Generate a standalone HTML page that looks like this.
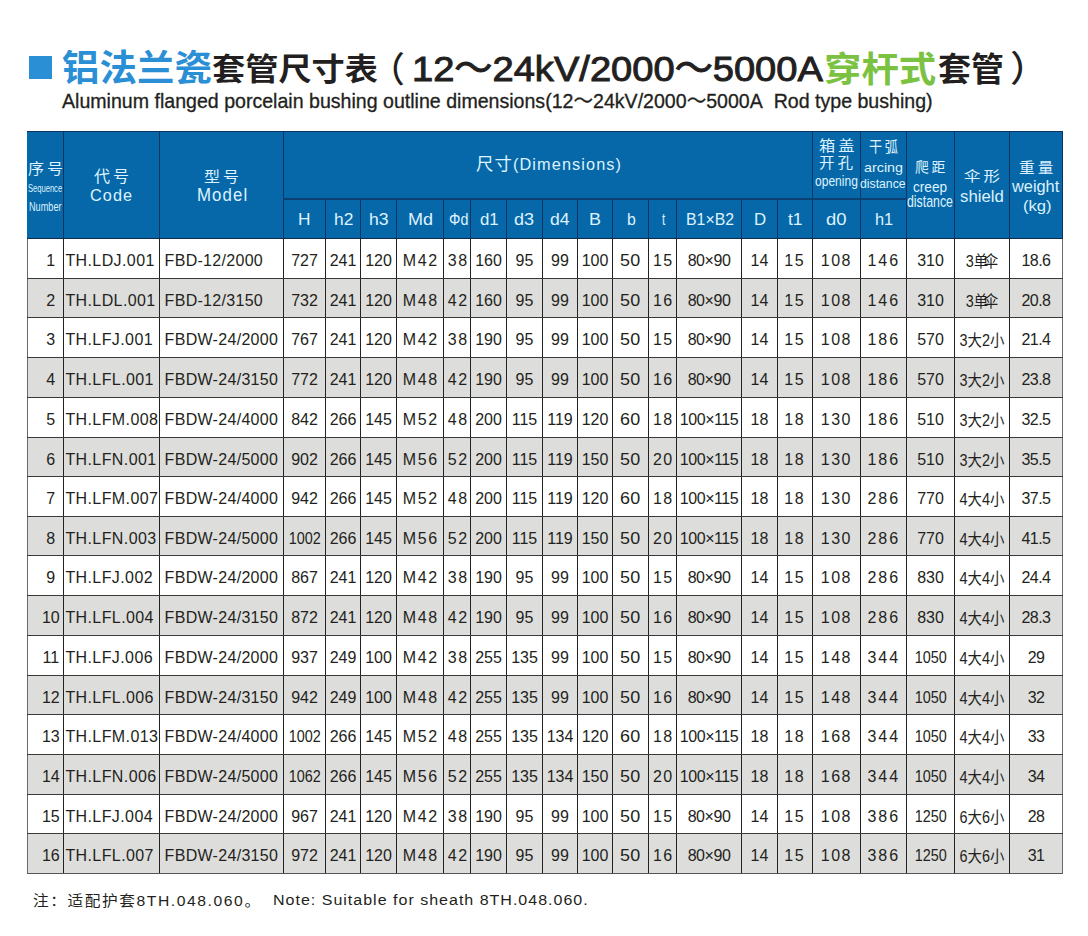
<!DOCTYPE html>
<html lang="zh"><head><meta charset="utf-8"><title>铝法兰瓷套管尺寸表</title><style>
*{margin:0;padding:0;box-sizing:border-box}
html,body{width:1088px;height:936px;background:#fff;overflow:hidden}
body{position:relative;font-family:"Liberation Sans","Noto Sans CJK SC",sans-serif;color:#231f20}
.a{position:absolute}
.f{position:absolute;white-space:nowrap;line-height:1;transform-origin:0 0}
.sq{left:29px;top:56px;width:23px;height:23px;background:#2a8fd5}
.hd{background:#0668a8}
.gr{background:#dddddb}
.vl{width:1px;background:#222}
.hl{height:1px;background:#3a3a3a}
.d{position:absolute;height:18px;line-height:18px;font-size:16px;text-align:center;white-space:nowrap}
.dl{text-align:left;letter-spacing:.4px}
.sh{display:inline-block;transform:scaleX(.9)}
</style></head><body>
<div class="a sq"></div>
<div class="a hd" style="left:27px;top:131px;width:1036px;height:107px"></div>
<div class="a gr" style="left:27px;top:278px;width:1036px;height:39px"></div>
<div class="a gr" style="left:27px;top:357px;width:1036px;height:40px"></div>
<div class="a gr" style="left:27px;top:437px;width:1036px;height:39px"></div>
<div class="a gr" style="left:27px;top:516px;width:1036px;height:39px"></div>
<div class="a gr" style="left:27px;top:595px;width:1036px;height:40px"></div>
<div class="a gr" style="left:27px;top:675px;width:1036px;height:39px"></div>
<div class="a gr" style="left:27px;top:754px;width:1036px;height:40px"></div>
<div class="a gr" style="left:27px;top:833px;width:1036px;height:40px"></div>
<div class="a vl" style="left:27px;top:238px;height:636px;background:#6a6a6a"></div>
<div class="a vl" style="left:63px;top:131px;height:107px;background:#0b3460"></div>
<div class="a vl" style="left:63px;top:238px;height:636px;background:#222"></div>
<div class="a vl" style="left:159px;top:131px;height:107px;background:#0b3460"></div>
<div class="a vl" style="left:159px;top:238px;height:636px;background:#222"></div>
<div class="a vl" style="left:283px;top:131px;height:107px;background:#0b3460"></div>
<div class="a vl" style="left:283px;top:238px;height:636px;background:#222"></div>
<div class="a vl" style="left:325px;top:198px;height:40px;background:#0b3460"></div>
<div class="a vl" style="left:325px;top:238px;height:636px;background:#222"></div>
<div class="a vl" style="left:360px;top:198px;height:40px;background:#0b3460"></div>
<div class="a vl" style="left:360px;top:238px;height:636px;background:#222"></div>
<div class="a vl" style="left:396px;top:198px;height:40px;background:#0b3460"></div>
<div class="a vl" style="left:396px;top:238px;height:636px;background:#222"></div>
<div class="a vl" style="left:443px;top:198px;height:40px;background:#0b3460"></div>
<div class="a vl" style="left:443px;top:238px;height:636px;background:#222"></div>
<div class="a vl" style="left:470px;top:198px;height:40px;background:#0b3460"></div>
<div class="a vl" style="left:470px;top:238px;height:636px;background:#222"></div>
<div class="a vl" style="left:506px;top:198px;height:40px;background:#0b3460"></div>
<div class="a vl" style="left:506px;top:238px;height:636px;background:#222"></div>
<div class="a vl" style="left:542px;top:198px;height:40px;background:#0b3460"></div>
<div class="a vl" style="left:542px;top:238px;height:636px;background:#222"></div>
<div class="a vl" style="left:577px;top:198px;height:40px;background:#0b3460"></div>
<div class="a vl" style="left:577px;top:238px;height:636px;background:#222"></div>
<div class="a vl" style="left:612px;top:198px;height:40px;background:#0b3460"></div>
<div class="a vl" style="left:612px;top:238px;height:636px;background:#222"></div>
<div class="a vl" style="left:648px;top:198px;height:40px;background:#0b3460"></div>
<div class="a vl" style="left:648px;top:238px;height:636px;background:#222"></div>
<div class="a vl" style="left:676px;top:198px;height:40px;background:#0b3460"></div>
<div class="a vl" style="left:676px;top:238px;height:636px;background:#222"></div>
<div class="a vl" style="left:741px;top:198px;height:40px;background:#0b3460"></div>
<div class="a vl" style="left:741px;top:238px;height:636px;background:#222"></div>
<div class="a vl" style="left:777px;top:198px;height:40px;background:#0b3460"></div>
<div class="a vl" style="left:777px;top:238px;height:636px;background:#222"></div>
<div class="a vl" style="left:812px;top:131px;height:107px;background:#0b3460"></div>
<div class="a vl" style="left:812px;top:238px;height:636px;background:#222"></div>
<div class="a vl" style="left:860px;top:131px;height:107px;background:#0b3460"></div>
<div class="a vl" style="left:860px;top:238px;height:636px;background:#222"></div>
<div class="a vl" style="left:906px;top:131px;height:107px;background:#0b3460"></div>
<div class="a vl" style="left:906px;top:238px;height:636px;background:#222"></div>
<div class="a vl" style="left:954px;top:131px;height:107px;background:#0b3460"></div>
<div class="a vl" style="left:954px;top:238px;height:636px;background:#222"></div>
<div class="a vl" style="left:1009px;top:131px;height:107px;background:#0b3460"></div>
<div class="a vl" style="left:1009px;top:238px;height:636px;background:#222"></div>
<div class="a vl" style="left:1062px;top:131px;height:107px;background:#0b3460"></div>
<div class="a vl" style="left:1062px;top:238px;height:636px;background:#6a6a6a"></div>
<div class="a hl" style="left:27px;top:131px;width:1036px;background:#0b3460"></div>
<div class="a hl" style="left:27px;top:238px;width:1036px;background:#102c48"></div>
<div class="a hl" style="left:27px;top:278px;width:1036px"></div>
<div class="a hl" style="left:27px;top:317px;width:1036px"></div>
<div class="a hl" style="left:27px;top:357px;width:1036px"></div>
<div class="a hl" style="left:27px;top:397px;width:1036px"></div>
<div class="a hl" style="left:27px;top:437px;width:1036px"></div>
<div class="a hl" style="left:27px;top:476px;width:1036px"></div>
<div class="a hl" style="left:27px;top:516px;width:1036px"></div>
<div class="a hl" style="left:27px;top:555px;width:1036px"></div>
<div class="a hl" style="left:27px;top:595px;width:1036px"></div>
<div class="a hl" style="left:27px;top:635px;width:1036px"></div>
<div class="a hl" style="left:27px;top:675px;width:1036px"></div>
<div class="a hl" style="left:27px;top:714px;width:1036px"></div>
<div class="a hl" style="left:27px;top:754px;width:1036px"></div>
<div class="a hl" style="left:27px;top:794px;width:1036px"></div>
<div class="a hl" style="left:27px;top:833px;width:1036px"></div>
<div class="a hl" style="left:27px;top:873px;width:1036px;background:#555"></div>
<div class="a hl" style="left:283px;top:198px;width:624px;height:2px;background:#0c4072"></div>
<span class="f" style="font-family:'Noto Sans CJK SC',sans-serif;font-size:37px;font-weight:700;line-height:1;left:61.69px;top:48.03px;transform:scale(1.0130,0.9694);color:#2a8fd5;">铝法兰瓷</span>
<span class="f" style="font-family:'Noto Sans CJK SC',sans-serif;font-size:34px;font-weight:700;line-height:1;left:212.12px;top:51.79px;transform:scale(0.9762,0.9088);color:#231f20;">套管尺寸表</span>
<span class="f" style="font-family:'Noto Sans CJK SC',sans-serif;font-size:37px;font-weight:500;line-height:1;left:369.60px;top:49.51px;transform:scale(0.9400,0.9457);color:#231f20;">（</span>
<span class="f" style="font-family:'Liberation Sans','Noto Sans CJK SC',sans-serif;font-size:37px;font-weight:400;-webkit-text-stroke:1px #231f20;line-height:1;left:411.84px;top:50.88px;transform:scale(1.0296,0.9724);color:#231f20;">12～24kV/2000～5000A</span>
<span class="f" style="font-family:'Noto Sans CJK SC',sans-serif;font-size:37px;font-weight:700;line-height:1;left:824.48px;top:48.73px;transform:scale(1.0111,0.9667);color:#7cc242;">穿杆式</span>
<span class="f" style="font-family:'Noto Sans CJK SC',sans-serif;font-size:34px;font-weight:700;line-height:1;left:937.73px;top:51.24px;transform:scale(0.9682,0.9576);color:#231f20;">套管</span>
<span class="f" style="font-family:'Noto Sans CJK SC',sans-serif;font-size:37px;font-weight:500;line-height:1;left:1010.06px;top:49.06px;transform:scale(1.0200,0.9714);color:#231f20;">）</span>
<span class="f" style="font-family:'Liberation Sans','Noto Sans CJK SC',sans-serif;font-size:19px;-webkit-text-stroke:0.3px #231f20;line-height:1;left:62.40px;top:91.04px;transform:scale(1.0303,1.0538);color:#231f20;">Aluminum flanged porcelain bushing outline dimensions(12～24kV/2000～5000A&nbsp; Rod type bushing)</span>
<span class="f" style="font-family:'Liberation Sans','Noto Sans CJK SC',sans-serif;font-size:16px;letter-spacing:1.6px;line-height:1;left:32.52px;top:894.19px;transform:scale(0.9800,0.8938);color:#231f20;">注：适配护套8TH.048.060。</span>
<span class="f" style="font-family:'Liberation Sans','Noto Sans CJK SC',sans-serif;font-size:16px;letter-spacing:1px;line-height:1;left:272.90px;top:893.46px;transform:scale(1.0006,0.9417);color:#231f20;">Note: Suitable for sheath 8TH.048.060.</span>
<span class="f" style="font-family:'Noto Sans CJK SC',sans-serif;font-size:16px;letter-spacing:3px;line-height:1;left:28.39px;top:159.57px;transform:scale(1.0061,0.9313);color:#def2ff;">序号</span>
<span class="f" style="font-family:'Liberation Sans','Noto Sans CJK SC',sans-serif;font-size:11.5px;line-height:1;left:28.34px;top:182.70px;transform:scale(0.6588,1.0000);color:#def2ff;">Sequence</span>
<span class="f" style="font-family:'Liberation Sans','Noto Sans CJK SC',sans-serif;font-size:11.5px;line-height:1;left:28.90px;top:201.33px;transform:scale(0.7950,1.0750);color:#def2ff;">Number</span>
<span class="f" style="font-family:'Noto Sans CJK SC',sans-serif;font-size:16px;letter-spacing:3px;line-height:1;left:94.10px;top:166.74px;transform:scale(1.0030,0.9800);color:#def2ff;">代号</span>
<span class="f" style="font-family:'Liberation Sans','Noto Sans CJK SC',sans-serif;font-size:15.5px;letter-spacing:1px;line-height:1;left:90.35px;top:187.12px;transform:scale(1.0487,1.0600);color:#def2ff;">Code</span>
<span class="f" style="font-family:'Noto Sans CJK SC',sans-serif;font-size:16px;letter-spacing:3px;line-height:1;left:203.81px;top:168.61px;transform:scale(0.9939,0.8938);color:#def2ff;">型号</span>
<span class="f" style="font-family:'Liberation Sans','Noto Sans CJK SC',sans-serif;font-size:15.5px;letter-spacing:1px;line-height:1;left:196.71px;top:185.62px;transform:scale(1.0864,1.1600);color:#def2ff;">Model</span>
<span class="f" style="font-family:'Liberation Sans','Noto Sans CJK SC',sans-serif;font-size:15px;letter-spacing:1px;line-height:1;left:475.91px;top:155.99px;transform:scale(1.0870,1.0700);color:#def2ff;"><span style="font-size:16px">尺寸</span>(Dimensions)</span>
<span class="f" style="font-family:'Noto Sans CJK SC',sans-serif;font-size:16px;letter-spacing:3px;line-height:1;left:818.68px;top:137.81px;transform:scale(1.0152,0.8938);color:#def2ff;">箱盖</span>
<span class="f" style="font-family:'Noto Sans CJK SC',sans-serif;font-size:16px;letter-spacing:3px;line-height:1;left:819.13px;top:154.31px;transform:scale(0.9735,0.9467);color:#def2ff;">开孔</span>
<span class="f" style="font-family:'Liberation Sans','Noto Sans CJK SC',sans-serif;font-size:14px;line-height:1;left:815.14px;top:173.70px;transform:scale(0.8604,1.0250);color:#def2ff;">opening</span>
<span class="f" style="font-family:'Noto Sans CJK SC',sans-serif;font-size:16px;letter-spacing:3px;line-height:1;left:868.88px;top:137.78px;transform:scale(0.8242,0.9188);color:#def2ff;">干弧</span>
<span class="f" style="font-family:'Liberation Sans','Noto Sans CJK SC',sans-serif;font-size:14px;line-height:1;left:864.08px;top:160.10px;transform:scale(1.0222,0.9750);color:#def2ff;">arcing</span>
<span class="f" style="font-family:'Liberation Sans','Noto Sans CJK SC',sans-serif;font-size:14px;line-height:1;left:860.13px;top:175.88px;transform:scale(0.8745,0.9600);color:#def2ff;">distance</span>
<span class="f" style="font-family:'Noto Sans CJK SC',sans-serif;font-size:16px;letter-spacing:3px;line-height:1;left:915.14px;top:159.43px;transform:scale(0.8647,0.8750);color:#def2ff;">爬距</span>
<span class="f" style="font-family:'Liberation Sans','Noto Sans CJK SC',sans-serif;font-size:14px;line-height:1;left:912.83px;top:178.70px;transform:scale(0.9735,1.1000);color:#def2ff;">creep</span>
<span class="f" style="font-family:'Liberation Sans','Noto Sans CJK SC',sans-serif;font-size:14px;line-height:1;left:907.02px;top:193.24px;transform:scale(0.8804,1.1800);color:#def2ff;">distance</span>
<span class="f" style="font-family:'Noto Sans CJK SC',sans-serif;font-size:16px;letter-spacing:3px;line-height:1;left:964.28px;top:168.22px;transform:scale(1.0242,0.8750);color:#def2ff;">伞形</span>
<span class="f" style="font-family:'Liberation Sans','Noto Sans CJK SC',sans-serif;font-size:16px;line-height:1;left:959.85px;top:188.69px;transform:scale(1.0475,1.0083);color:#def2ff;">shield</span>
<span class="f" style="font-family:'Noto Sans CJK SC',sans-serif;font-size:16px;letter-spacing:3px;line-height:1;left:1018.72px;top:159.37px;transform:scale(0.9818,0.9333);color:#def2ff;">重量</span>
<span class="f" style="font-family:'Liberation Sans','Noto Sans CJK SC',sans-serif;font-size:16px;line-height:1;left:1012.40px;top:179.12px;transform:scale(1.0217,0.9833);color:#def2ff;">weight</span>
<span class="f" style="font-family:'Liberation Sans','Noto Sans CJK SC',sans-serif;font-size:16px;line-height:1;left:1023.06px;top:198.98px;transform:scale(1.0385,0.9167);color:#def2ff;">(kg)</span>
<span class="f" style="font-family:'Liberation Sans','Noto Sans CJK SC',sans-serif;font-size:16.5px;line-height:1;left:298.45px;top:211.33px;transform:scale(1.0500,0.9833);color:#def2ff;">H</span>
<span class="f" style="font-family:'Liberation Sans','Noto Sans CJK SC',sans-serif;font-size:16.5px;line-height:1;left:333.75px;top:211.33px;transform:scale(1.0529,0.9833);color:#def2ff;">h2</span>
<span class="f" style="font-family:'Liberation Sans','Noto Sans CJK SC',sans-serif;font-size:16.5px;line-height:1;left:368.53px;top:211.33px;transform:scale(1.0706,0.9833);color:#def2ff;">h3</span>
<span class="f" style="font-family:'Liberation Sans','Noto Sans CJK SC',sans-serif;font-size:16.5px;line-height:1;left:408.00px;top:211.33px;transform:scale(1.0952,0.9833);color:#def2ff;">Md</span>
<span class="f" style="font-family:'Liberation Sans','Noto Sans CJK SC',sans-serif;font-size:16.5px;line-height:1;left:448.93px;top:211.33px;transform:scale(0.8667,0.9833);color:#def2ff;">Φd</span>
<span class="f" style="font-family:'Liberation Sans','Noto Sans CJK SC',sans-serif;font-size:16.5px;line-height:1;left:479.78px;top:211.33px;transform:scale(1.0176,0.9833);color:#def2ff;">d1</span>
<span class="f" style="font-family:'Liberation Sans','Noto Sans CJK SC',sans-serif;font-size:16.5px;line-height:1;left:514.21px;top:211.33px;transform:scale(1.0941,0.9833);color:#def2ff;">d3</span>
<span class="f" style="font-family:'Liberation Sans','Noto Sans CJK SC',sans-serif;font-size:16.5px;line-height:1;left:549.84px;top:211.33px;transform:scale(1.0647,0.9833);color:#def2ff;">d4</span>
<span class="f" style="font-family:'Liberation Sans','Noto Sans CJK SC',sans-serif;font-size:16.5px;line-height:1;left:589.31px;top:211.33px;transform:scale(1.0889,0.9833);color:#def2ff;">B</span>
<span class="f" style="font-family:'Liberation Sans','Noto Sans CJK SC',sans-serif;font-size:16.5px;line-height:1;left:627.24px;top:211.33px;transform:scale(0.9625,0.9833);color:#def2ff;">b</span>
<span class="f" style="font-family:'Liberation Sans','Noto Sans CJK SC',sans-serif;font-size:16.5px;line-height:1;left:661.60px;top:211.33px;transform:scale(0.7000,0.9833);color:#def2ff;">t</span>
<span class="f" style="font-family:'Liberation Sans','Noto Sans CJK SC',sans-serif;font-size:16.5px;line-height:1;left:685.64px;top:211.33px;transform:scale(0.9604,0.9833);color:#def2ff;">B1×B2</span>
<span class="f" style="font-family:'Liberation Sans','Noto Sans CJK SC',sans-serif;font-size:16.5px;line-height:1;left:753.58px;top:211.33px;transform:scale(1.0200,0.9833);color:#def2ff;">D</span>
<span class="f" style="font-family:'Liberation Sans','Noto Sans CJK SC',sans-serif;font-size:16.5px;line-height:1;left:788.00px;top:211.33px;transform:scale(1.0615,0.9833);color:#def2ff;">t1</span>
<span class="f" style="font-family:'Liberation Sans','Noto Sans CJK SC',sans-serif;font-size:16.5px;line-height:1;left:826.08px;top:211.33px;transform:scale(1.1176,0.9833);color:#def2ff;">d0</span>
<span class="f" style="font-family:'Liberation Sans','Noto Sans CJK SC',sans-serif;font-size:16.5px;line-height:1;left:874.81px;top:211.33px;transform:scale(0.9941,0.9833);color:#def2ff;">h1</span>
<div class="d" style="left:38px;width:25.6px;top:252.46px;">1</div>
<div class="d dl" style="left:65.4px;width:94px;top:252.46px;">TH.LDJ.001</div>
<div class="d dl" style="left:164.6px;width:118px;top:252.46px;letter-spacing:.3px;">FBD-12/2000</div>
<div class="d" style="left:284px;width:41px;top:252.46px;">727</div>
<div class="d" style="left:326px;width:34px;top:252.46px;">241</div>
<div class="d" style="left:361px;width:35px;top:252.46px;">120</div>
<div class="d" style="left:397px;width:46px;top:252.46px;letter-spacing:1.60px;padding-left:1.60px;">M42</div>
<div class="d" style="left:444.5px;width:26px;top:252.46px;letter-spacing:1.60px;padding-left:1.60px;">38</div>
<div class="d" style="left:471px;width:35px;top:252.46px;">160</div>
<div class="d" style="left:507px;width:35px;top:252.46px;">95</div>
<div class="d" style="left:543px;width:34px;top:252.46px;">99</div>
<div class="d" style="left:578px;width:34px;top:252.46px;">100</div>
<div class="d" style="left:613px;width:35px;top:252.46px;letter-spacing:0.30px;padding-left:0.30px;"><span style="display:inline-block;transform:scaleX(1.12)">50</span></div>
<div class="d" style="left:649px;width:27px;top:252.46px;letter-spacing:1.40px;padding-left:1.40px;">15</div>
<div class="d" style="left:677px;width:64px;top:252.46px;letter-spacing:-0.45px;padding-left:-0.45px;">80×90</div>
<div class="d" style="left:742px;width:35px;top:252.46px;">14</div>
<div class="d" style="left:777px;width:34px;top:252.46px;letter-spacing:1.50px;padding-left:1.50px;">15</div>
<div class="d" style="left:812.1px;width:47px;top:252.46px;letter-spacing:1.50px;padding-left:1.50px;">108</div>
<div class="d" style="left:860.3px;width:45px;top:252.46px;letter-spacing:1.90px;padding-left:1.90px;">146</div>
<div class="d" style="left:907px;width:47px;top:252.46px;">310</div>
<div class="d" style="left:955px;width:54px;top:253.26px;"><span class="sh">3<span style="letter-spacing:-5px">单</span>伞</span></div>
<div class="d" style="left:1010px;width:52px;top:252.46px;letter-spacing:-0.55px;padding-left:-0.55px;">18.6</div>
<div class="d" style="left:38px;width:25.6px;top:292.46px;">2</div>
<div class="d dl" style="left:65.4px;width:94px;top:292.46px;">TH.LDL.001</div>
<div class="d dl" style="left:164.6px;width:118px;top:292.46px;letter-spacing:.3px;">FBD-12/3150</div>
<div class="d" style="left:284px;width:41px;top:292.46px;">732</div>
<div class="d" style="left:326px;width:34px;top:292.46px;">241</div>
<div class="d" style="left:361px;width:35px;top:292.46px;">120</div>
<div class="d" style="left:397px;width:46px;top:292.46px;letter-spacing:1.60px;padding-left:1.60px;">M48</div>
<div class="d" style="left:444.5px;width:26px;top:292.46px;letter-spacing:1.60px;padding-left:1.60px;">42</div>
<div class="d" style="left:471px;width:35px;top:292.46px;">160</div>
<div class="d" style="left:507px;width:35px;top:292.46px;">95</div>
<div class="d" style="left:543px;width:34px;top:292.46px;">99</div>
<div class="d" style="left:578px;width:34px;top:292.46px;">100</div>
<div class="d" style="left:613px;width:35px;top:292.46px;letter-spacing:0.30px;padding-left:0.30px;"><span style="display:inline-block;transform:scaleX(1.12)">50</span></div>
<div class="d" style="left:649px;width:27px;top:292.46px;letter-spacing:1.40px;padding-left:1.40px;">16</div>
<div class="d" style="left:677px;width:64px;top:292.46px;letter-spacing:-0.45px;padding-left:-0.45px;">80×90</div>
<div class="d" style="left:742px;width:35px;top:292.46px;">14</div>
<div class="d" style="left:777px;width:34px;top:292.46px;letter-spacing:1.50px;padding-left:1.50px;">15</div>
<div class="d" style="left:812.1px;width:47px;top:292.46px;letter-spacing:1.50px;padding-left:1.50px;">108</div>
<div class="d" style="left:860.3px;width:45px;top:292.46px;letter-spacing:1.90px;padding-left:1.90px;">146</div>
<div class="d" style="left:907px;width:47px;top:292.46px;">310</div>
<div class="d" style="left:955px;width:54px;top:293.26px;"><span class="sh">3<span style="letter-spacing:-5px">单</span>伞</span></div>
<div class="d" style="left:1010px;width:52px;top:292.46px;letter-spacing:-0.55px;padding-left:-0.55px;">20.8</div>
<div class="d" style="left:38px;width:25.6px;top:331.46px;">3</div>
<div class="d dl" style="left:65.4px;width:94px;top:331.46px;">TH.LFJ.001</div>
<div class="d dl" style="left:164.6px;width:118px;top:331.46px;letter-spacing:.3px;">FBDW-24/2000</div>
<div class="d" style="left:284px;width:41px;top:331.46px;">767</div>
<div class="d" style="left:326px;width:34px;top:331.46px;">241</div>
<div class="d" style="left:361px;width:35px;top:331.46px;">120</div>
<div class="d" style="left:397px;width:46px;top:331.46px;letter-spacing:1.60px;padding-left:1.60px;">M42</div>
<div class="d" style="left:444.5px;width:26px;top:331.46px;letter-spacing:1.60px;padding-left:1.60px;">38</div>
<div class="d" style="left:471px;width:35px;top:331.46px;">190</div>
<div class="d" style="left:507px;width:35px;top:331.46px;">95</div>
<div class="d" style="left:543px;width:34px;top:331.46px;">99</div>
<div class="d" style="left:578px;width:34px;top:331.46px;">100</div>
<div class="d" style="left:613px;width:35px;top:331.46px;letter-spacing:0.30px;padding-left:0.30px;"><span style="display:inline-block;transform:scaleX(1.12)">50</span></div>
<div class="d" style="left:649px;width:27px;top:331.46px;letter-spacing:1.40px;padding-left:1.40px;">15</div>
<div class="d" style="left:677px;width:64px;top:331.46px;letter-spacing:-0.45px;padding-left:-0.45px;">80×90</div>
<div class="d" style="left:742px;width:35px;top:331.46px;">14</div>
<div class="d" style="left:777px;width:34px;top:331.46px;letter-spacing:1.50px;padding-left:1.50px;">15</div>
<div class="d" style="left:812.1px;width:47px;top:331.46px;letter-spacing:1.50px;padding-left:1.50px;">108</div>
<div class="d" style="left:860.3px;width:45px;top:331.46px;letter-spacing:1.90px;padding-left:1.90px;">186</div>
<div class="d" style="left:907px;width:47px;top:331.46px;">570</div>
<div class="d" style="left:955px;width:54px;top:332.26px;"><span class="sh">3大2小</span></div>
<div class="d" style="left:1010px;width:52px;top:331.46px;letter-spacing:-0.55px;padding-left:-0.55px;">21.4</div>
<div class="d" style="left:38px;width:25.6px;top:371.46px;">4</div>
<div class="d dl" style="left:65.4px;width:94px;top:371.46px;">TH.LFL.001</div>
<div class="d dl" style="left:164.6px;width:118px;top:371.46px;letter-spacing:.3px;">FBDW-24/3150</div>
<div class="d" style="left:284px;width:41px;top:371.46px;">772</div>
<div class="d" style="left:326px;width:34px;top:371.46px;">241</div>
<div class="d" style="left:361px;width:35px;top:371.46px;">120</div>
<div class="d" style="left:397px;width:46px;top:371.46px;letter-spacing:1.60px;padding-left:1.60px;">M48</div>
<div class="d" style="left:444.5px;width:26px;top:371.46px;letter-spacing:1.60px;padding-left:1.60px;">42</div>
<div class="d" style="left:471px;width:35px;top:371.46px;">190</div>
<div class="d" style="left:507px;width:35px;top:371.46px;">95</div>
<div class="d" style="left:543px;width:34px;top:371.46px;">99</div>
<div class="d" style="left:578px;width:34px;top:371.46px;">100</div>
<div class="d" style="left:613px;width:35px;top:371.46px;letter-spacing:0.30px;padding-left:0.30px;"><span style="display:inline-block;transform:scaleX(1.12)">50</span></div>
<div class="d" style="left:649px;width:27px;top:371.46px;letter-spacing:1.40px;padding-left:1.40px;">16</div>
<div class="d" style="left:677px;width:64px;top:371.46px;letter-spacing:-0.45px;padding-left:-0.45px;">80×90</div>
<div class="d" style="left:742px;width:35px;top:371.46px;">14</div>
<div class="d" style="left:777px;width:34px;top:371.46px;letter-spacing:1.50px;padding-left:1.50px;">15</div>
<div class="d" style="left:812.1px;width:47px;top:371.46px;letter-spacing:1.50px;padding-left:1.50px;">108</div>
<div class="d" style="left:860.3px;width:45px;top:371.46px;letter-spacing:1.90px;padding-left:1.90px;">186</div>
<div class="d" style="left:907px;width:47px;top:371.46px;">570</div>
<div class="d" style="left:955px;width:54px;top:372.26px;"><span class="sh">3大2小</span></div>
<div class="d" style="left:1010px;width:52px;top:371.46px;letter-spacing:-0.55px;padding-left:-0.55px;">23.8</div>
<div class="d" style="left:38px;width:25.6px;top:411.46px;">5</div>
<div class="d dl" style="left:65.4px;width:94px;top:411.46px;">TH.LFM.008</div>
<div class="d dl" style="left:164.6px;width:118px;top:411.46px;letter-spacing:.3px;">FBDW-24/4000</div>
<div class="d" style="left:284px;width:41px;top:411.46px;">842</div>
<div class="d" style="left:326px;width:34px;top:411.46px;">266</div>
<div class="d" style="left:361px;width:35px;top:411.46px;">145</div>
<div class="d" style="left:397px;width:46px;top:411.46px;letter-spacing:1.60px;padding-left:1.60px;">M52</div>
<div class="d" style="left:444.5px;width:26px;top:411.46px;letter-spacing:1.60px;padding-left:1.60px;">48</div>
<div class="d" style="left:471px;width:35px;top:411.46px;">200</div>
<div class="d" style="left:507px;width:35px;top:411.46px;">115</div>
<div class="d" style="left:543px;width:34px;top:411.46px;">119</div>
<div class="d" style="left:578px;width:34px;top:411.46px;">120</div>
<div class="d" style="left:613px;width:35px;top:411.46px;letter-spacing:0.30px;padding-left:0.30px;"><span style="display:inline-block;transform:scaleX(1.12)">60</span></div>
<div class="d" style="left:649px;width:27px;top:411.46px;letter-spacing:1.40px;padding-left:1.40px;">18</div>
<div class="d" style="left:677px;width:64px;top:411.46px;letter-spacing:-0.45px;padding-left:-0.45px;">100×115</div>
<div class="d" style="left:742px;width:35px;top:411.46px;">18</div>
<div class="d" style="left:777px;width:34px;top:411.46px;letter-spacing:1.50px;padding-left:1.50px;">18</div>
<div class="d" style="left:812.1px;width:47px;top:411.46px;letter-spacing:1.50px;padding-left:1.50px;">130</div>
<div class="d" style="left:860.3px;width:45px;top:411.46px;letter-spacing:1.90px;padding-left:1.90px;">186</div>
<div class="d" style="left:907px;width:47px;top:411.46px;">510</div>
<div class="d" style="left:955px;width:54px;top:412.26px;"><span class="sh">3大2小</span></div>
<div class="d" style="left:1010px;width:52px;top:411.46px;letter-spacing:-0.55px;padding-left:-0.55px;">32.5</div>
<div class="d" style="left:38px;width:25.6px;top:451.46px;">6</div>
<div class="d dl" style="left:65.4px;width:94px;top:451.46px;">TH.LFN.001</div>
<div class="d dl" style="left:164.6px;width:118px;top:451.46px;letter-spacing:.3px;">FBDW-24/5000</div>
<div class="d" style="left:284px;width:41px;top:451.46px;">902</div>
<div class="d" style="left:326px;width:34px;top:451.46px;">266</div>
<div class="d" style="left:361px;width:35px;top:451.46px;">145</div>
<div class="d" style="left:397px;width:46px;top:451.46px;letter-spacing:1.60px;padding-left:1.60px;">M56</div>
<div class="d" style="left:444.5px;width:26px;top:451.46px;letter-spacing:1.60px;padding-left:1.60px;">52</div>
<div class="d" style="left:471px;width:35px;top:451.46px;">200</div>
<div class="d" style="left:507px;width:35px;top:451.46px;">115</div>
<div class="d" style="left:543px;width:34px;top:451.46px;">119</div>
<div class="d" style="left:578px;width:34px;top:451.46px;">150</div>
<div class="d" style="left:613px;width:35px;top:451.46px;letter-spacing:0.30px;padding-left:0.30px;"><span style="display:inline-block;transform:scaleX(1.12)">50</span></div>
<div class="d" style="left:649px;width:27px;top:451.46px;letter-spacing:1.40px;padding-left:1.40px;">20</div>
<div class="d" style="left:677px;width:64px;top:451.46px;letter-spacing:-0.45px;padding-left:-0.45px;">100×115</div>
<div class="d" style="left:742px;width:35px;top:451.46px;">18</div>
<div class="d" style="left:777px;width:34px;top:451.46px;letter-spacing:1.50px;padding-left:1.50px;">18</div>
<div class="d" style="left:812.1px;width:47px;top:451.46px;letter-spacing:1.50px;padding-left:1.50px;">130</div>
<div class="d" style="left:860.3px;width:45px;top:451.46px;letter-spacing:1.90px;padding-left:1.90px;">186</div>
<div class="d" style="left:907px;width:47px;top:451.46px;">510</div>
<div class="d" style="left:955px;width:54px;top:452.26px;"><span class="sh">3大2小</span></div>
<div class="d" style="left:1010px;width:52px;top:451.46px;letter-spacing:-0.55px;padding-left:-0.55px;">35.5</div>
<div class="d" style="left:38px;width:25.6px;top:490.46px;">7</div>
<div class="d dl" style="left:65.4px;width:94px;top:490.46px;">TH.LFM.007</div>
<div class="d dl" style="left:164.6px;width:118px;top:490.46px;letter-spacing:.3px;">FBDW-24/4000</div>
<div class="d" style="left:284px;width:41px;top:490.46px;">942</div>
<div class="d" style="left:326px;width:34px;top:490.46px;">266</div>
<div class="d" style="left:361px;width:35px;top:490.46px;">145</div>
<div class="d" style="left:397px;width:46px;top:490.46px;letter-spacing:1.60px;padding-left:1.60px;">M52</div>
<div class="d" style="left:444.5px;width:26px;top:490.46px;letter-spacing:1.60px;padding-left:1.60px;">48</div>
<div class="d" style="left:471px;width:35px;top:490.46px;">200</div>
<div class="d" style="left:507px;width:35px;top:490.46px;">115</div>
<div class="d" style="left:543px;width:34px;top:490.46px;">119</div>
<div class="d" style="left:578px;width:34px;top:490.46px;">120</div>
<div class="d" style="left:613px;width:35px;top:490.46px;letter-spacing:0.30px;padding-left:0.30px;"><span style="display:inline-block;transform:scaleX(1.12)">60</span></div>
<div class="d" style="left:649px;width:27px;top:490.46px;letter-spacing:1.40px;padding-left:1.40px;">18</div>
<div class="d" style="left:677px;width:64px;top:490.46px;letter-spacing:-0.45px;padding-left:-0.45px;">100×115</div>
<div class="d" style="left:742px;width:35px;top:490.46px;">18</div>
<div class="d" style="left:777px;width:34px;top:490.46px;letter-spacing:1.50px;padding-left:1.50px;">18</div>
<div class="d" style="left:812.1px;width:47px;top:490.46px;letter-spacing:1.50px;padding-left:1.50px;">130</div>
<div class="d" style="left:860.3px;width:45px;top:490.46px;letter-spacing:1.90px;padding-left:1.90px;">286</div>
<div class="d" style="left:907px;width:47px;top:490.46px;">770</div>
<div class="d" style="left:955px;width:54px;top:491.26px;"><span class="sh">4大4小</span></div>
<div class="d" style="left:1010px;width:52px;top:490.46px;letter-spacing:-0.55px;padding-left:-0.55px;">37.5</div>
<div class="d" style="left:38px;width:25.6px;top:530.46px;">8</div>
<div class="d dl" style="left:65.4px;width:94px;top:530.46px;">TH.LFN.003</div>
<div class="d dl" style="left:164.6px;width:118px;top:530.46px;letter-spacing:.3px;">FBDW-24/5000</div>
<div class="d" style="left:284px;width:41px;top:530.46px;"><span style="display:inline-block;transform:scaleX(.9)">1002</span></div>
<div class="d" style="left:326px;width:34px;top:530.46px;">266</div>
<div class="d" style="left:361px;width:35px;top:530.46px;">145</div>
<div class="d" style="left:397px;width:46px;top:530.46px;letter-spacing:1.60px;padding-left:1.60px;">M56</div>
<div class="d" style="left:444.5px;width:26px;top:530.46px;letter-spacing:1.60px;padding-left:1.60px;">52</div>
<div class="d" style="left:471px;width:35px;top:530.46px;">200</div>
<div class="d" style="left:507px;width:35px;top:530.46px;">115</div>
<div class="d" style="left:543px;width:34px;top:530.46px;">119</div>
<div class="d" style="left:578px;width:34px;top:530.46px;">150</div>
<div class="d" style="left:613px;width:35px;top:530.46px;letter-spacing:0.30px;padding-left:0.30px;"><span style="display:inline-block;transform:scaleX(1.12)">50</span></div>
<div class="d" style="left:649px;width:27px;top:530.46px;letter-spacing:1.40px;padding-left:1.40px;">20</div>
<div class="d" style="left:677px;width:64px;top:530.46px;letter-spacing:-0.45px;padding-left:-0.45px;">100×115</div>
<div class="d" style="left:742px;width:35px;top:530.46px;">18</div>
<div class="d" style="left:777px;width:34px;top:530.46px;letter-spacing:1.50px;padding-left:1.50px;">18</div>
<div class="d" style="left:812.1px;width:47px;top:530.46px;letter-spacing:1.50px;padding-left:1.50px;">130</div>
<div class="d" style="left:860.3px;width:45px;top:530.46px;letter-spacing:1.90px;padding-left:1.90px;">286</div>
<div class="d" style="left:907px;width:47px;top:530.46px;">770</div>
<div class="d" style="left:955px;width:54px;top:531.26px;"><span class="sh">4大4小</span></div>
<div class="d" style="left:1010px;width:52px;top:530.46px;letter-spacing:-0.55px;padding-left:-0.55px;">41.5</div>
<div class="d" style="left:38px;width:25.6px;top:569.46px;">9</div>
<div class="d dl" style="left:65.4px;width:94px;top:569.46px;">TH.LFJ.002</div>
<div class="d dl" style="left:164.6px;width:118px;top:569.46px;letter-spacing:.3px;">FBDW-24/2000</div>
<div class="d" style="left:284px;width:41px;top:569.46px;">867</div>
<div class="d" style="left:326px;width:34px;top:569.46px;">241</div>
<div class="d" style="left:361px;width:35px;top:569.46px;">120</div>
<div class="d" style="left:397px;width:46px;top:569.46px;letter-spacing:1.60px;padding-left:1.60px;">M42</div>
<div class="d" style="left:444.5px;width:26px;top:569.46px;letter-spacing:1.60px;padding-left:1.60px;">38</div>
<div class="d" style="left:471px;width:35px;top:569.46px;">190</div>
<div class="d" style="left:507px;width:35px;top:569.46px;">95</div>
<div class="d" style="left:543px;width:34px;top:569.46px;">99</div>
<div class="d" style="left:578px;width:34px;top:569.46px;">100</div>
<div class="d" style="left:613px;width:35px;top:569.46px;letter-spacing:0.30px;padding-left:0.30px;"><span style="display:inline-block;transform:scaleX(1.12)">50</span></div>
<div class="d" style="left:649px;width:27px;top:569.46px;letter-spacing:1.40px;padding-left:1.40px;">15</div>
<div class="d" style="left:677px;width:64px;top:569.46px;letter-spacing:-0.45px;padding-left:-0.45px;">80×90</div>
<div class="d" style="left:742px;width:35px;top:569.46px;">14</div>
<div class="d" style="left:777px;width:34px;top:569.46px;letter-spacing:1.50px;padding-left:1.50px;">15</div>
<div class="d" style="left:812.1px;width:47px;top:569.46px;letter-spacing:1.50px;padding-left:1.50px;">108</div>
<div class="d" style="left:860.3px;width:45px;top:569.46px;letter-spacing:1.90px;padding-left:1.90px;">286</div>
<div class="d" style="left:907px;width:47px;top:569.46px;">830</div>
<div class="d" style="left:955px;width:54px;top:570.26px;"><span class="sh">4大4小</span></div>
<div class="d" style="left:1010px;width:52px;top:569.46px;letter-spacing:-0.55px;padding-left:-0.55px;">24.4</div>
<div class="d" style="left:38px;width:25.6px;top:609.46px;">10</div>
<div class="d dl" style="left:65.4px;width:94px;top:609.46px;">TH.LFL.004</div>
<div class="d dl" style="left:164.6px;width:118px;top:609.46px;letter-spacing:.3px;">FBDW-24/3150</div>
<div class="d" style="left:284px;width:41px;top:609.46px;">872</div>
<div class="d" style="left:326px;width:34px;top:609.46px;">241</div>
<div class="d" style="left:361px;width:35px;top:609.46px;">120</div>
<div class="d" style="left:397px;width:46px;top:609.46px;letter-spacing:1.60px;padding-left:1.60px;">M48</div>
<div class="d" style="left:444.5px;width:26px;top:609.46px;letter-spacing:1.60px;padding-left:1.60px;">42</div>
<div class="d" style="left:471px;width:35px;top:609.46px;">190</div>
<div class="d" style="left:507px;width:35px;top:609.46px;">95</div>
<div class="d" style="left:543px;width:34px;top:609.46px;">99</div>
<div class="d" style="left:578px;width:34px;top:609.46px;">100</div>
<div class="d" style="left:613px;width:35px;top:609.46px;letter-spacing:0.30px;padding-left:0.30px;"><span style="display:inline-block;transform:scaleX(1.12)">50</span></div>
<div class="d" style="left:649px;width:27px;top:609.46px;letter-spacing:1.40px;padding-left:1.40px;">16</div>
<div class="d" style="left:677px;width:64px;top:609.46px;letter-spacing:-0.45px;padding-left:-0.45px;">80×90</div>
<div class="d" style="left:742px;width:35px;top:609.46px;">14</div>
<div class="d" style="left:777px;width:34px;top:609.46px;letter-spacing:1.50px;padding-left:1.50px;">15</div>
<div class="d" style="left:812.1px;width:47px;top:609.46px;letter-spacing:1.50px;padding-left:1.50px;">108</div>
<div class="d" style="left:860.3px;width:45px;top:609.46px;letter-spacing:1.90px;padding-left:1.90px;">286</div>
<div class="d" style="left:907px;width:47px;top:609.46px;">830</div>
<div class="d" style="left:955px;width:54px;top:610.26px;"><span class="sh">4大4小</span></div>
<div class="d" style="left:1010px;width:52px;top:609.46px;letter-spacing:-0.55px;padding-left:-0.55px;">28.3</div>
<div class="d" style="left:38px;width:25.6px;top:649.46px;">11</div>
<div class="d dl" style="left:65.4px;width:94px;top:649.46px;">TH.LFJ.006</div>
<div class="d dl" style="left:164.6px;width:118px;top:649.46px;letter-spacing:.3px;">FBDW-24/2000</div>
<div class="d" style="left:284px;width:41px;top:649.46px;">937</div>
<div class="d" style="left:326px;width:34px;top:649.46px;">249</div>
<div class="d" style="left:361px;width:35px;top:649.46px;">100</div>
<div class="d" style="left:397px;width:46px;top:649.46px;letter-spacing:1.60px;padding-left:1.60px;">M42</div>
<div class="d" style="left:444.5px;width:26px;top:649.46px;letter-spacing:1.60px;padding-left:1.60px;">38</div>
<div class="d" style="left:471px;width:35px;top:649.46px;">255</div>
<div class="d" style="left:507px;width:35px;top:649.46px;">135</div>
<div class="d" style="left:543px;width:34px;top:649.46px;">99</div>
<div class="d" style="left:578px;width:34px;top:649.46px;">100</div>
<div class="d" style="left:613px;width:35px;top:649.46px;letter-spacing:0.30px;padding-left:0.30px;"><span style="display:inline-block;transform:scaleX(1.12)">50</span></div>
<div class="d" style="left:649px;width:27px;top:649.46px;letter-spacing:1.40px;padding-left:1.40px;">15</div>
<div class="d" style="left:677px;width:64px;top:649.46px;letter-spacing:-0.45px;padding-left:-0.45px;">80×90</div>
<div class="d" style="left:742px;width:35px;top:649.46px;">14</div>
<div class="d" style="left:777px;width:34px;top:649.46px;letter-spacing:1.50px;padding-left:1.50px;">15</div>
<div class="d" style="left:812.1px;width:47px;top:649.46px;letter-spacing:1.50px;padding-left:1.50px;">148</div>
<div class="d" style="left:860.3px;width:45px;top:649.46px;letter-spacing:1.90px;padding-left:1.90px;">344</div>
<div class="d" style="left:907px;width:47px;top:649.46px;"><span style="display:inline-block;transform:scaleX(.9)">1050</span></div>
<div class="d" style="left:955px;width:54px;top:650.26px;"><span class="sh">4大4小</span></div>
<div class="d" style="left:1010px;width:52px;top:649.46px;letter-spacing:-0.55px;padding-left:-0.55px;">29</div>
<div class="d" style="left:38px;width:25.6px;top:689.46px;">12</div>
<div class="d dl" style="left:65.4px;width:94px;top:689.46px;">TH.LFL.006</div>
<div class="d dl" style="left:164.6px;width:118px;top:689.46px;letter-spacing:.3px;">FBDW-24/3150</div>
<div class="d" style="left:284px;width:41px;top:689.46px;">942</div>
<div class="d" style="left:326px;width:34px;top:689.46px;">249</div>
<div class="d" style="left:361px;width:35px;top:689.46px;">100</div>
<div class="d" style="left:397px;width:46px;top:689.46px;letter-spacing:1.60px;padding-left:1.60px;">M48</div>
<div class="d" style="left:444.5px;width:26px;top:689.46px;letter-spacing:1.60px;padding-left:1.60px;">42</div>
<div class="d" style="left:471px;width:35px;top:689.46px;">255</div>
<div class="d" style="left:507px;width:35px;top:689.46px;">135</div>
<div class="d" style="left:543px;width:34px;top:689.46px;">99</div>
<div class="d" style="left:578px;width:34px;top:689.46px;">100</div>
<div class="d" style="left:613px;width:35px;top:689.46px;letter-spacing:0.30px;padding-left:0.30px;"><span style="display:inline-block;transform:scaleX(1.12)">50</span></div>
<div class="d" style="left:649px;width:27px;top:689.46px;letter-spacing:1.40px;padding-left:1.40px;">16</div>
<div class="d" style="left:677px;width:64px;top:689.46px;letter-spacing:-0.45px;padding-left:-0.45px;">80×90</div>
<div class="d" style="left:742px;width:35px;top:689.46px;">14</div>
<div class="d" style="left:777px;width:34px;top:689.46px;letter-spacing:1.50px;padding-left:1.50px;">15</div>
<div class="d" style="left:812.1px;width:47px;top:689.46px;letter-spacing:1.50px;padding-left:1.50px;">148</div>
<div class="d" style="left:860.3px;width:45px;top:689.46px;letter-spacing:1.90px;padding-left:1.90px;">344</div>
<div class="d" style="left:907px;width:47px;top:689.46px;"><span style="display:inline-block;transform:scaleX(.9)">1050</span></div>
<div class="d" style="left:955px;width:54px;top:690.26px;"><span class="sh">4大4小</span></div>
<div class="d" style="left:1010px;width:52px;top:689.46px;letter-spacing:-0.55px;padding-left:-0.55px;">32</div>
<div class="d" style="left:38px;width:25.6px;top:728.46px;">13</div>
<div class="d dl" style="left:65.4px;width:94px;top:728.46px;">TH.LFM.013</div>
<div class="d dl" style="left:164.6px;width:118px;top:728.46px;letter-spacing:.3px;">FBDW-24/4000</div>
<div class="d" style="left:284px;width:41px;top:728.46px;"><span style="display:inline-block;transform:scaleX(.9)">1002</span></div>
<div class="d" style="left:326px;width:34px;top:728.46px;">266</div>
<div class="d" style="left:361px;width:35px;top:728.46px;">145</div>
<div class="d" style="left:397px;width:46px;top:728.46px;letter-spacing:1.60px;padding-left:1.60px;">M52</div>
<div class="d" style="left:444.5px;width:26px;top:728.46px;letter-spacing:1.60px;padding-left:1.60px;">48</div>
<div class="d" style="left:471px;width:35px;top:728.46px;">255</div>
<div class="d" style="left:507px;width:35px;top:728.46px;">135</div>
<div class="d" style="left:543px;width:34px;top:728.46px;">134</div>
<div class="d" style="left:578px;width:34px;top:728.46px;">120</div>
<div class="d" style="left:613px;width:35px;top:728.46px;letter-spacing:0.30px;padding-left:0.30px;"><span style="display:inline-block;transform:scaleX(1.12)">60</span></div>
<div class="d" style="left:649px;width:27px;top:728.46px;letter-spacing:1.40px;padding-left:1.40px;">18</div>
<div class="d" style="left:677px;width:64px;top:728.46px;letter-spacing:-0.45px;padding-left:-0.45px;">100×115</div>
<div class="d" style="left:742px;width:35px;top:728.46px;">18</div>
<div class="d" style="left:777px;width:34px;top:728.46px;letter-spacing:1.50px;padding-left:1.50px;">18</div>
<div class="d" style="left:812.1px;width:47px;top:728.46px;letter-spacing:1.50px;padding-left:1.50px;">168</div>
<div class="d" style="left:860.3px;width:45px;top:728.46px;letter-spacing:1.90px;padding-left:1.90px;">344</div>
<div class="d" style="left:907px;width:47px;top:728.46px;"><span style="display:inline-block;transform:scaleX(.9)">1050</span></div>
<div class="d" style="left:955px;width:54px;top:729.26px;"><span class="sh">4大4小</span></div>
<div class="d" style="left:1010px;width:52px;top:728.46px;letter-spacing:-0.55px;padding-left:-0.55px;">33</div>
<div class="d" style="left:38px;width:25.6px;top:768.46px;">14</div>
<div class="d dl" style="left:65.4px;width:94px;top:768.46px;">TH.LFN.006</div>
<div class="d dl" style="left:164.6px;width:118px;top:768.46px;letter-spacing:.3px;">FBDW-24/5000</div>
<div class="d" style="left:284px;width:41px;top:768.46px;"><span style="display:inline-block;transform:scaleX(.9)">1062</span></div>
<div class="d" style="left:326px;width:34px;top:768.46px;">266</div>
<div class="d" style="left:361px;width:35px;top:768.46px;">145</div>
<div class="d" style="left:397px;width:46px;top:768.46px;letter-spacing:1.60px;padding-left:1.60px;">M56</div>
<div class="d" style="left:444.5px;width:26px;top:768.46px;letter-spacing:1.60px;padding-left:1.60px;">52</div>
<div class="d" style="left:471px;width:35px;top:768.46px;">255</div>
<div class="d" style="left:507px;width:35px;top:768.46px;">135</div>
<div class="d" style="left:543px;width:34px;top:768.46px;">134</div>
<div class="d" style="left:578px;width:34px;top:768.46px;">150</div>
<div class="d" style="left:613px;width:35px;top:768.46px;letter-spacing:0.30px;padding-left:0.30px;"><span style="display:inline-block;transform:scaleX(1.12)">50</span></div>
<div class="d" style="left:649px;width:27px;top:768.46px;letter-spacing:1.40px;padding-left:1.40px;">20</div>
<div class="d" style="left:677px;width:64px;top:768.46px;letter-spacing:-0.45px;padding-left:-0.45px;">100×115</div>
<div class="d" style="left:742px;width:35px;top:768.46px;">18</div>
<div class="d" style="left:777px;width:34px;top:768.46px;letter-spacing:1.50px;padding-left:1.50px;">18</div>
<div class="d" style="left:812.1px;width:47px;top:768.46px;letter-spacing:1.50px;padding-left:1.50px;">168</div>
<div class="d" style="left:860.3px;width:45px;top:768.46px;letter-spacing:1.90px;padding-left:1.90px;">344</div>
<div class="d" style="left:907px;width:47px;top:768.46px;"><span style="display:inline-block;transform:scaleX(.9)">1050</span></div>
<div class="d" style="left:955px;width:54px;top:769.26px;"><span class="sh">4大4小</span></div>
<div class="d" style="left:1010px;width:52px;top:768.46px;letter-spacing:-0.55px;padding-left:-0.55px;">34</div>
<div class="d" style="left:38px;width:25.6px;top:808.46px;">15</div>
<div class="d dl" style="left:65.4px;width:94px;top:808.46px;">TH.LFJ.004</div>
<div class="d dl" style="left:164.6px;width:118px;top:808.46px;letter-spacing:.3px;">FBDW-24/2000</div>
<div class="d" style="left:284px;width:41px;top:808.46px;">967</div>
<div class="d" style="left:326px;width:34px;top:808.46px;">241</div>
<div class="d" style="left:361px;width:35px;top:808.46px;">120</div>
<div class="d" style="left:397px;width:46px;top:808.46px;letter-spacing:1.60px;padding-left:1.60px;">M42</div>
<div class="d" style="left:444.5px;width:26px;top:808.46px;letter-spacing:1.60px;padding-left:1.60px;">38</div>
<div class="d" style="left:471px;width:35px;top:808.46px;">190</div>
<div class="d" style="left:507px;width:35px;top:808.46px;">95</div>
<div class="d" style="left:543px;width:34px;top:808.46px;">99</div>
<div class="d" style="left:578px;width:34px;top:808.46px;">100</div>
<div class="d" style="left:613px;width:35px;top:808.46px;letter-spacing:0.30px;padding-left:0.30px;"><span style="display:inline-block;transform:scaleX(1.12)">50</span></div>
<div class="d" style="left:649px;width:27px;top:808.46px;letter-spacing:1.40px;padding-left:1.40px;">15</div>
<div class="d" style="left:677px;width:64px;top:808.46px;letter-spacing:-0.45px;padding-left:-0.45px;">80×90</div>
<div class="d" style="left:742px;width:35px;top:808.46px;">14</div>
<div class="d" style="left:777px;width:34px;top:808.46px;letter-spacing:1.50px;padding-left:1.50px;">15</div>
<div class="d" style="left:812.1px;width:47px;top:808.46px;letter-spacing:1.50px;padding-left:1.50px;">108</div>
<div class="d" style="left:860.3px;width:45px;top:808.46px;letter-spacing:1.90px;padding-left:1.90px;">386</div>
<div class="d" style="left:907px;width:47px;top:808.46px;"><span style="display:inline-block;transform:scaleX(.9)">1250</span></div>
<div class="d" style="left:955px;width:54px;top:809.26px;"><span class="sh">6大6小</span></div>
<div class="d" style="left:1010px;width:52px;top:808.46px;letter-spacing:-0.55px;padding-left:-0.55px;">28</div>
<div class="d" style="left:38px;width:25.6px;top:847.46px;">16</div>
<div class="d dl" style="left:65.4px;width:94px;top:847.46px;">TH.LFL.007</div>
<div class="d dl" style="left:164.6px;width:118px;top:847.46px;letter-spacing:.3px;">FBDW-24/3150</div>
<div class="d" style="left:284px;width:41px;top:847.46px;">972</div>
<div class="d" style="left:326px;width:34px;top:847.46px;">241</div>
<div class="d" style="left:361px;width:35px;top:847.46px;">120</div>
<div class="d" style="left:397px;width:46px;top:847.46px;letter-spacing:1.60px;padding-left:1.60px;">M48</div>
<div class="d" style="left:444.5px;width:26px;top:847.46px;letter-spacing:1.60px;padding-left:1.60px;">42</div>
<div class="d" style="left:471px;width:35px;top:847.46px;">190</div>
<div class="d" style="left:507px;width:35px;top:847.46px;">95</div>
<div class="d" style="left:543px;width:34px;top:847.46px;">99</div>
<div class="d" style="left:578px;width:34px;top:847.46px;">100</div>
<div class="d" style="left:613px;width:35px;top:847.46px;letter-spacing:0.30px;padding-left:0.30px;"><span style="display:inline-block;transform:scaleX(1.12)">50</span></div>
<div class="d" style="left:649px;width:27px;top:847.46px;letter-spacing:1.40px;padding-left:1.40px;">16</div>
<div class="d" style="left:677px;width:64px;top:847.46px;letter-spacing:-0.45px;padding-left:-0.45px;">80×90</div>
<div class="d" style="left:742px;width:35px;top:847.46px;">14</div>
<div class="d" style="left:777px;width:34px;top:847.46px;letter-spacing:1.50px;padding-left:1.50px;">15</div>
<div class="d" style="left:812.1px;width:47px;top:847.46px;letter-spacing:1.50px;padding-left:1.50px;">108</div>
<div class="d" style="left:860.3px;width:45px;top:847.46px;letter-spacing:1.90px;padding-left:1.90px;">386</div>
<div class="d" style="left:907px;width:47px;top:847.46px;"><span style="display:inline-block;transform:scaleX(.9)">1250</span></div>
<div class="d" style="left:955px;width:54px;top:848.26px;"><span class="sh">6大6小</span></div>
<div class="d" style="left:1010px;width:52px;top:847.46px;letter-spacing:-0.55px;padding-left:-0.55px;">31</div>
</body></html>
